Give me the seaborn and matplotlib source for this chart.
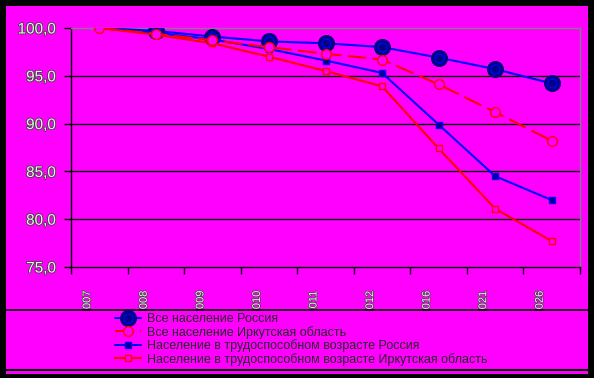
import numpy as np
import pandas as pd
import matplotlib
matplotlib.use("Agg")
import matplotlib.pyplot as plt
import matplotlib.transforms as mtrans
import matplotlib.patheffects as pe
from matplotlib.patches import Rectangle
from matplotlib.lines import Line2D
import seaborn as sns

# данные (2007 = 100)
years = ["2007", "2008", "2009", "2010", "2011", "2012", "2016", "2021", "2026"]
russia_all = [100.0, 99.7, 99.1, 98.6, 98.4, 98.0, 96.9, 95.7, 94.2]
irkutsk_all = [100.0, 99.4, 98.7, 98.0, 97.3, 96.7, 94.1, 91.2, 88.2]
russia_work = [100.0, 99.5, 98.8, 97.8, 96.6, 95.3, 89.9, 84.5, 82.0]
irkutsk_work = [100.0, 99.3, 98.4, 97.0, 95.5, 93.9, 87.4, 81.1, 77.7]
labels = ["Все население Россия",
          "Все население Иркутская область",
          "Население в трудоспособном возрасте Россия",
          "Население в трудоспособном возрасте Иркутская область"]

MAG = "#FF00FF"
W, H = 594, 378

sns.set_style("white")
plt.rcParams["font.family"] = ["Liberation Sans", "DejaVu Sans"]

fig = plt.figure(figsize=(W / 100, H / 100), dpi=100)
fig.patch.set_facecolor("black")
# magenta card
fig.add_artist(Rectangle((6 / W, 1 - 374 / H), 582 / W, 368 / H, transform=fig.transFigure,
                         facecolor=MAG, edgecolor="none", zorder=-1))

ax = fig.add_axes([71 / W, 1 - 267 / H, 509 / W, 239 / H])
ax.set_facecolor(MAG)
ax.patch.set_alpha(0)

pos = np.arange(len(years))
df = pd.DataFrame({"pos": pos, "ra": russia_all, "ia": irkutsk_all,
                   "rw": russia_work, "iw": irkutsk_work})
skip_first = list(range(1, len(years)))

sns.lineplot(data=df, x="pos", y="ra", ax=ax, color="#0000FF", lw=1.5,
             marker="o", markersize=11.5, markerfacecolor="#000080",
             markeredgecolor="#000080", markevery=skip_first, zorder=3)
ring = ax.plot(pos[1:], russia_all[1:], ls="none", marker="o", markersize=6.5,
               markerfacecolor="none", markeredgecolor="#0000FF", mew=1, zorder=3)[0]
sns.lineplot(data=df, x="pos", y="ia", ax=ax, color="#FF0000", lw=1.5,
             dashes=False, marker="o", markersize=7, markerfacecolor=MAG,
             markeredgecolor="#FF0000", mew=1, zorder=7)
ax.lines[-1].set_dashes((9, 3))
sns.lineplot(data=df, x="pos", y="rw", ax=ax, color="#0000FF", lw=1.5,
             marker="s", markersize=4.5, markerfacecolor="#000080",
             markeredgecolor="#0000FF", mew=1, markevery=skip_first, zorder=5)
sns.lineplot(data=df, x="pos", y="iw", ax=ax, color="#FF0000", lw=1.5,
             marker="s", markersize=4.5, markerfacecolor=MAG,
             markeredgecolor="#FF0000", mew=1, markevery=skip_first, zorder=6)

ax.set_xlim(-0.5, len(years) - 0.5)
ax.set_ylim(75, 100)
ax.set_xlabel("")
ax.set_ylabel("")

# y axis
yt = [75, 80, 85, 90, 95, 100]
ax.set_yticks(yt)
ax.set_yticklabels([f"{v:.1f}".replace(".", ",") for v in yt])
ax.tick_params(axis="y", length=5, width=1, color="black", direction="out",
               pad=6, labelsize=11, labelcolor="#F0F0F0", left=True)
for t in ax.get_yticklabels():
    t.set_path_effects([pe.withStroke(linewidth=1.2, foreground="#404040")])
for v in [80, 85, 90, 95]:
    ax.axhline(v, color="black", lw=1, zorder=1)

# x axis: labels at centres, ticks at boundaries
ax.set_xticks(pos)
ax.set_xticklabels(years, rotation=90, va="top", ha="center")
ax.set_xticks(np.arange(-0.5, len(years)), minor=True)
ax.tick_params(axis="x", which="major", length=0, pad=17, labelsize=8,
               labelcolor="#F0F0F0")
ax.tick_params(axis="x", which="minor", length=5, width=1, color="black",
               direction="out", bottom=True)
shift = mtrans.ScaledTranslation(-12 / 100, 0, fig.dpi_scale_trans)
clip = mtrans.TransformedBbox(mtrans.Bbox.from_extents(0, 1 - 310 / H, 1, 1),
                              fig.transFigure)
for t in ax.get_xticklabels():
    t.set_transform(t.get_transform() + shift)
    t.set_path_effects([pe.withStroke(linewidth=1.0, foreground="#404040")])
    t.set_clip_box(clip)
    t.set_clip_on(True)

for s in ["left", "bottom"]:
    ax.spines[s].set_color("black")
    ax.spines[s].set_linewidth(1)
for s in ["top", "right"]:
    ax.spines[s].set_color("#808080")
    ax.spines[s].set_linewidth(1)

# legend area covers the tails of the rotated labels
fig.add_artist(Rectangle((6 / W, 1 - 370 / H), 582 / W, 60 / H, transform=fig.transFigure,
                         facecolor=MAG, edgecolor="none", zorder=3))
fig.add_artist(Line2D([6 / W, 588 / W], [1 - 310 / H] * 2, transform=fig.transFigure,
                      color="black", lw=1.2, zorder=4))
fig.add_artist(Line2D([6 / W, 588 / W], [1 - 370 / H] * 2, transform=fig.transFigure,
                      color="black", lw=1.5, zorder=4))

handles = [(ax.lines[0], ring), ax.lines[2], ax.lines[3], ax.lines[4]]
leg = fig.legend(handles, labels, loc="upper left",
                 bbox_to_anchor=(115 / W, 1 - 313 / H), frameon=False,
                 fontsize=9, handlelength=2.1, handletextpad=0.45,
                 labelspacing=0.05, borderpad=0, borderaxespad=0)
leg.set_zorder(5)

fig.savefig("out.png", dpi=100, facecolor=fig.get_facecolor())
